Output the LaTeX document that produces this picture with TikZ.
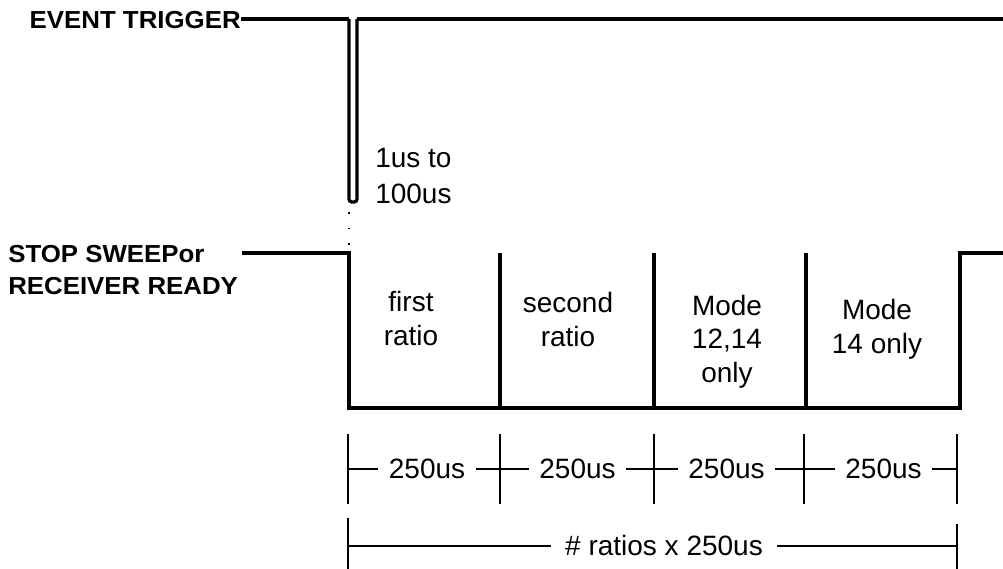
\documentclass[tikz,border=0pt]{standalone}
\usepackage{fontspec}
\setmainfont{Liberation Sans}
\newfontfamily\sigfont{Liberation Sans}[FakeStretch=1.05]
\usetikzlibrary{positioning, calc}

\newcommand{\txtfont}{\fontsize{19.9}{24.2}\selectfont}
\newcommand{\lblfont}{\sigfont\bfseries\fontsize{17.5}{22.8}\selectfont}

\tikzset{
  sig/.style={line width=2.3pt, line join=miter},
  tick/.style={line width=1.7pt},
  siglbl/.style={font=\lblfont, inner sep=0pt, align=left},
  slot/.style={font=\txtfont, inner sep=0pt, align=center},
  dimlbl/.style={font=\txtfont, inner xsep=7.5pt, inner ysep=0pt},
}

\begin{document}
\begin{tikzpicture}[x=0.025cm, y=-0.025cm]
  \useasboundingbox (0,0) rectangle (1003,569);

  % event trigger line with its short pulse
  \node[siglbl, anchor=east] (evt) at (241,20) {EVENT TRIGGER};
  \coordinate (pulsel) at (349,19);
  \coordinate (pulser) at (357,19);
  \coordinate (evtend) at (1003,19);
  \draw[sig] (evt.east |- pulsel) -- (pulsel);
  \draw[sig, rounded corners=2pt] (pulsel) -- (349,202) -- (357,202) -- (pulser);
  \draw[sig] (pulser) -- (evtend);
  \node[slot, anchor=west, align=left, font=\fontsize{19.9}{25.6}\selectfont] (pw) at (375,176) {1us to\\100us};
  \draw[line width=1.2pt, dash pattern=on 1.2pt off 10pt] (349,212) -- (349,250);

  % stop sweep / receiver ready
  \node[siglbl, anchor=north west] (ssw) at (8,245) {STOP SWEEPor\\RECEIVER READY};
  \coordinate (ssin) at (242,253);
  \coordinate (fall) at (349,253);
  \coordinate (rise) at (960,253);
  \coordinate (ssend) at (1003,253);
  \draw[sig] (ssin) -- (fall) -- (349,408) -- (960,408) -- (rise) -- (ssend);
  \foreach \x in {500,654,806}
    \draw[sig] (\x,253) -- (\x,408);

  \node[slot] (r1) at (411,318.5) {first\\ratio};
  \node[slot] (r2) at (568,319.5) {second\\ratio};
  \node[slot, font=\fontsize{19.9}{23.8}\selectfont] (r3) at (727,341.5) {Mode\\12,14\\only};
  \node[slot] (r4) at (877,329) {Mode\\14 only};

  % 250us slots
  \coordinate (t0) at (348,469);
  \coordinate (t1) at (500,469);
  \coordinate (t2) at (654,469);
  \coordinate (t3) at (804,469);
  \coordinate (t4) at (957,469);
  \foreach \t in {t0,t1,t2,t3,t4}
    \draw[tick] ($(\t)+(0,-35)$) -- ($(\t)+(0,35)$);
  \node[dimlbl] (d1) at (427,469) {250us};
  \node[dimlbl] (d2) at (577.5,469) {250us};
  \node[dimlbl] (d3) at (726.5,469) {250us};
  \node[dimlbl] (d4) at (883.5,469) {250us};
  \draw[tick] (t0) -- (d1.west |- t0);
  \draw[tick] (d1.east |- t1) -- (t1) -- (d2.west |- t1);
  \draw[tick] (d2.east |- t2) -- (t2) -- (d3.west |- t2);
  \draw[tick] (d3.east |- t3) -- (t3) -- (d4.west |- t3);
  \draw[tick] (d4.east |- t4) -- (t4);

  % whole sweep
  \coordinate (s0) at (348,546);
  \coordinate (s1) at (957,546);
  \draw[tick] (348,518) -- (348,569);
  \draw[tick] (957,524) -- (957,569);
  \node[dimlbl, inner xsep=10pt] (tot) at (664,545) {\# ratios x 250us};
  \draw[tick] (s0) -- (tot.west |- s0);
  \draw[tick] (tot.east |- s1) -- (s1);
\end{tikzpicture}
\end{document}
